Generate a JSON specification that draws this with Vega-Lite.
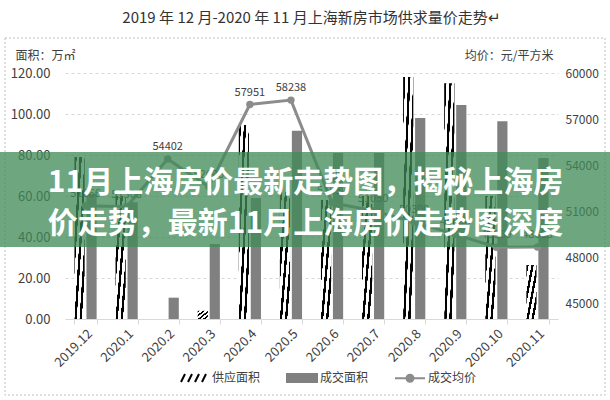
{
  "$schema": "https://vega.github.io/schema/vega-lite/v6.json",
  "width": 493,
  "height": 246,
  "autosize": {"type": "none"},
  "padding": {"left": 65, "top": 73, "right": 52, "bottom": 81},
  "background": "white",
  "config": {"font": "Noto Sans CJK SC", "view": {"stroke": null}},
  "title": {"text": "2019 年 12 月-2020 年 11 月上海新房市场供求量价走势↵", "fontSize": 15, "fontWeight": "normal", "color": "#333333", "anchor": "middle", "offset": 12},
  "datasets": {
    "bars": [
      {"month": "2019.12", "series": "供应面积", "area": 79},
      {"month": "2019.12", "series": "成交面积", "area": 61},
      {"month": "2020.1", "series": "供应面积", "area": 60},
      {"month": "2020.1", "series": "成交面积", "area": 57},
      {"month": "2020.2", "series": "供应面积", "area": 0},
      {"month": "2020.2", "series": "成交面积", "area": 10.4},
      {"month": "2020.3", "series": "供应面积", "area": 4},
      {"month": "2020.3", "series": "成交面积", "area": 36.6},
      {"month": "2020.4", "series": "供应面积", "area": 94.6},
      {"month": "2020.4", "series": "成交面积", "area": 59},
      {"month": "2020.5", "series": "供应面积", "area": 62},
      {"month": "2020.5", "series": "成交面积", "area": 91.8},
      {"month": "2020.6", "series": "供应面积", "area": 58},
      {"month": "2020.6", "series": "成交面积", "area": 81},
      {"month": "2020.7", "series": "供应面积", "area": 60},
      {"month": "2020.7", "series": "成交面积", "area": 81},
      {"month": "2020.8", "series": "供应面积", "area": 118},
      {"month": "2020.8", "series": "成交面积", "area": 98},
      {"month": "2020.9", "series": "供应面积", "area": 115},
      {"month": "2020.9", "series": "成交面积", "area": 104.4},
      {"month": "2020.10", "series": "供应面积", "area": 60},
      {"month": "2020.10", "series": "成交面积", "area": 96.5},
      {"month": "2020.11", "series": "供应面积", "area": 26.3},
      {"month": "2020.11", "series": "成交面积", "area": 78.5}
    ],
    "price": [
      {"month": "2019.12", "series": "成交均价", "price": 51366},
      {"month": "2020.1", "series": "成交均价", "price": 51308},
      {"month": "2020.2", "series": "成交均价", "price": 54402},
      {"month": "2020.3", "series": "成交均价", "price": 52600},
      {"month": "2020.4", "series": "成交均价", "price": 57951},
      {"month": "2020.5", "series": "成交均价", "price": 58238},
      {"month": "2020.6", "series": "成交均价", "price": 51557},
      {"month": "2020.7", "series": "成交均价", "price": 51050},
      {"month": "2020.8", "series": "成交均价", "price": 50300},
      {"month": "2020.9", "series": "成交均价", "price": 49500},
      {"month": "2020.10", "series": "成交均价", "price": 48669},
      {"month": "2020.11", "series": "成交均价", "price": 48688}
    ],
    "banner": [
      {"banner": "11月上海房价最新走势图，揭秘上海房|价走势，最新11月上海房价走势图深度"}
    ]
  },
  "layer": [
    {
      "data": {"name": "banner"},
      "mark": {"type": "rect", "fill": "transparent", "stroke": "#bfbfbf", "strokeDash": [2, 2], "strokeWidth": 1, "xOffset": -60, "x2Offset": 47, "yOffset": -35, "y2Offset": 76},
      "encoding": {
        "x": {"value": 0},
        "x2": {"value": "width"},
        "y": {"value": 0},
        "y2": {"value": "height"}
      }
    },
    {
      "data": {"name": "bars"},
      "mark": {"type": "bar"},
      "encoding": {
        "x": {
          "field": "month", "type": "ordinal",
          "sort": ["2019.12", "2020.1", "2020.2", "2020.3", "2020.4", "2020.5", "2020.6", "2020.7", "2020.8", "2020.9", "2020.10", "2020.11"],
          "scale": {"paddingInner": 0.46, "paddingOuter": 0.23},
          "axis": {"title": null, "labelAngle": -45, "labelFontSize": 13, "labelColor": "#404040", "tickBand": "extent", "tickColor": "#d9d9d9", "tickSize": 5, "domainColor": "#d9d9d9", "labelPadding": 3, "grid": false}
        },
        "xOffset": {"field": "series", "type": "nominal", "sort": ["供应面积", "成交面积"], "scale": {"paddingInner": 0.15, "paddingOuter": 0}},
        "y": {
          "field": "area", "type": "quantitative",
          "scale": {"domain": [0, 120]},
          "axis": {"orient": "left", "title": "面积：万㎡", "titleAngle": 0, "titleAlign": "left", "titleBaseline": "middle", "titleX": -50, "titleY": -18, "titleFontSize": 12, "titleFontWeight": "normal", "titleColor": "#404040", "values": [0, 20, 40, 60, 80, 100, 120], "format": ".2f", "labelFontSize": 13, "labelColor": "#404040", "labelPadding": 15, "ticks": false, "domain": false, "grid": true, "gridColor": "#d9d9d9", "gridDash": [3, 3]}
        },
        "fill": {
          "condition": {
            "test": "datum.series === '供应面积'",
            "value": {"gradient": "linear", "x1": 0, "y1": 0, "x2": 1, "y2": 1, "stops": [
              {"offset": 0, "color": "#000000"}, {"offset": 0.11, "color": "#000000"},
              {"offset": 0.115, "color": "#ffffff"}, {"offset": 0.245, "color": "#ffffff"},
              {"offset": 0.25, "color": "#000000"}, {"offset": 0.36, "color": "#000000"},
              {"offset": 0.365, "color": "#ffffff"}, {"offset": 0.495, "color": "#ffffff"},
              {"offset": 0.5, "color": "#000000"}, {"offset": 0.61, "color": "#000000"},
              {"offset": 0.615, "color": "#ffffff"}, {"offset": 0.745, "color": "#ffffff"},
              {"offset": 0.75, "color": "#000000"}, {"offset": 0.86, "color": "#000000"},
              {"offset": 0.865, "color": "#ffffff"}, {"offset": 1, "color": "#ffffff"}
            ]}
          },
          "value": "#808080"
        }
      }
    },
    {
      "data": {"name": "price"},
      "layer": [
        {
          "mark": {"type": "line", "strokeWidth": 3, "point": {"filled": true, "size": 55}},
          "encoding": {
            "x": {"field": "month", "type": "ordinal", "sort": ["2019.12", "2020.1", "2020.2", "2020.3", "2020.4", "2020.5", "2020.6", "2020.7", "2020.8", "2020.9", "2020.10", "2020.11"]},
            "y": {
              "field": "price", "type": "quantitative",
              "scale": {"domain": [45000, 60000]},
              "axis": {"orient": "right", "title": "均价：元/平方米", "titleAngle": 0, "titleAlign": "right", "titleBaseline": "middle", "titleX": -5, "titleY": -18, "titleFontSize": 12, "titleFontWeight": "normal", "titleColor": "#404040", "values": [45000, 48000, 51000, 54000, 57000, 60000], "format": "d", "labelFontSize": 12, "labelColor": "#404040", "labelPadding": 7, "ticks": false, "domain": false, "grid": false}
            },
            "color": {
              "field": "series", "type": "nominal",
              "scale": {"domain": ["供应面积", "成交面积", "成交均价"], "range": ["#000000", "#808080", "#8c8c8c"]},
              "legend": {
                "title": null, "orient": "none", "legendX": 123, "legendY": 299, "direction": "horizontal",
                "symbolSize": 100, "labelFontSize": 12, "labelColor": "#404040", "labelOffset": 12, "columnPadding": 22, "padding": 0,
                "encode": {"symbols": {"update": {
                  "shape": [
                    {"test": "datum.value === '供应面积'", "value": "M-2.6,0.8L-1.8,-0.8M-1.2,0.8L-0.4,-0.8M0.2,0.8L1,-0.8M1.6,0.8L2.4,-0.8"},
                    {"test": "datum.value === '成交面积'", "value": "M-3,-0.8H3V0.8H-3Z"},
                    {"value": "M-3,0H3M0.7,0A0.7,0.7 0 1,1 -0.7,0A0.7,0.7 0 1,1 0.7,0"}
                  ],
                  "fill": [{"test": "datum.value === '供应面积'", "value": "transparent"}, {"value": "#808080"}],
                  "stroke": [{"test": "datum.value === '供应面积'", "value": "#000000"}, {"test": "datum.value === '成交面积'", "value": "transparent"}, {"value": "#8c8c8c"}],
                  "strokeWidth": {"value": 2},
                  "opacity": {"value": 1},
                  "fillOpacity": {"value": 1}
                }}}
              }
            }
          }
        },
        {
          "mark": {"type": "text", "dy": -12, "fontSize": 11, "color": "#404040"},
          "encoding": {
            "x": {"field": "month", "type": "ordinal", "sort": ["2019.12", "2020.1", "2020.2", "2020.3", "2020.4", "2020.5", "2020.6", "2020.7", "2020.8", "2020.9", "2020.10", "2020.11"]},
            "y": {"field": "price", "type": "quantitative"},
            "text": {"field": "price", "type": "quantitative", "format": "d"}
          }
        }
      ]
    },
    {
      "data": {"name": "banner"},
      "mark": {"type": "rect", "fill": "#418a57", "opacity": 0.76, "xOffset": -65, "x2Offset": 52},
      "encoding": {
        "x": {"value": 0},
        "x2": {"value": "width"},
        "y": {"datum": 81.5, "type": "quantitative", "scale": {"domain": [0, 120]}, "axis": null},
        "y2": {"datum": 35.1}
      }
    },
    {
      "data": {"name": "banner"},
      "mark": {"type": "text", "lineBreak": "|", "fontSize": 30, "fontWeight": "bold", "color": "#ffffff", "lineHeight": 41, "align": "center", "baseline": "middle", "dx": -6},
      "encoding": {
        "y": {"datum": 66.3, "type": "quantitative", "scale": {"domain": [0, 120]}, "axis": null},
        "text": {"field": "banner", "type": "nominal"}
      }
    }
  ],
  "resolve": {"scale": {"y": "independent"}}
}
